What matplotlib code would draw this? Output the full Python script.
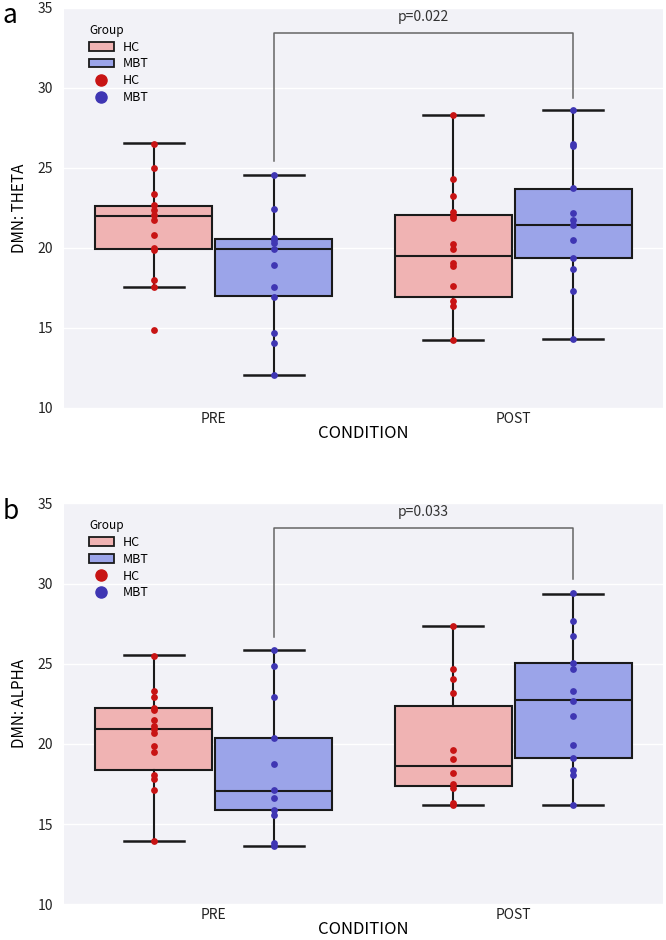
import matplotlib
matplotlib.use("Agg")
import matplotlib.pyplot as plt
from matplotlib.patches import Patch
from matplotlib.lines import Line2D

plt.rcParams['font.family'] = ['Noto Sans CJK KR', 'DejaVu Sans']

conditions = ["PRE", "POST"]
groups = ["HC", "MBT"]

# panel a: DMN theta, points per condition/group
theta_pts = {
    ("PRE", "HC"): [26.52, 24.98, 23.35, 22.71, 22.4, 22.08, 21.77, 20.83, 20.0, 19.9, 18.02, 17.54, 14.85],
    ("PRE", "MBT"): [24.58, 22.46, 20.62, 20.48, 20.31, 19.94, 18.96, 17.54, 16.92, 14.69, 14.06, 12.08],
    ("POST", "HC"): [28.33, 24.31, 23.23, 22.25, 22.02, 21.85, 20.25, 19.94, 19.06, 18.85, 17.6, 16.67, 16.35, 14.27],
    ("POST", "MBT"): [28.63, 26.52, 26.35, 23.73, 22.19, 21.77, 21.44, 20.48, 19.38, 18.69, 17.33, 14.31],
}
# box stats: whislo, q1, med, q3, whishi
theta_box = {
    ("PRE", "HC"): [17.54, 19.94, 22.0, 22.63, 26.56],
    ("PRE", "MBT"): [12.08, 16.98, 19.94, 20.56, 24.58],
    ("POST", "HC"): [14.23, 16.92, 19.48, 22.08, 28.33],
    ("POST", "MBT"): [14.31, 19.35, 21.44, 23.71, 28.63],
}

# panel b: DMN alpha
alpha_pts = {
    ("PRE", "HC"): [25.49, 23.31, 22.94, 22.27, 22.1, 21.48, 21.1, 20.94, 20.71, 19.86, 19.5, 18.05, 17.82, 17.15, 13.95],
    ("PRE", "MBT"): [25.83, 24.83, 22.92, 20.38, 18.76, 17.15, 16.6, 15.87, 15.55, 13.83, 13.62],
    ("POST", "HC"): [27.33, 24.66, 24.04, 23.19, 19.65, 19.03, 18.2, 17.53, 17.26, 16.32, 16.18],
    ("POST", "MBT"): [29.4, 27.68, 26.74, 25.02, 24.66, 23.33, 22.69, 21.73, 19.92, 19.13, 18.4, 18.09, 16.2],
}
alpha_box = {
    ("PRE", "HC"): [13.95, 18.4, 20.9, 22.25, 25.52],
    ("PRE", "MBT"): [13.62, 15.9, 17.09, 20.4, 25.83],
    ("POST", "HC"): [16.16, 17.36, 18.65, 22.35, 27.33],
    ("POST", "MBT"): [16.2, 19.15, 22.73, 25.02, 29.32],
}

# bracket: top, left leg end, right leg end
theta_bracket = [33.44, 25.42, 29.38]
alpha_bracket = [33.46, 26.68, 30.26]
theta_p = "p=0.022"
alpha_p = "p=0.033"

box_colors = {"HC": "#f0b3b3", "MBT": "#9ba4e9"}
dot_colors = {"HC": "#c81414", "MBT": "#3f36b3"}
offsets = {"HC": -0.2, "MBT": 0.2}


def draw_panel(ax, pts, boxes, bracket, ptext, ylabel, letter):
    ax.set_facecolor("#f2f2f7")
    for ci, cond in enumerate(conditions):
        for g in groups:
            lo, q1, med, q3, hi = boxes[(cond, g)]
            stat = dict(whislo=lo, q1=q1, med=med, q3=q3, whishi=hi, fliers=[])
            pos = ci + offsets[g]
            ax.bxp([stat], positions=[pos], widths=0.39, patch_artist=True,
                   showfliers=False, capwidths=0.2,
                   boxprops=dict(facecolor=box_colors[g], edgecolor="#1a1a1a", linewidth=1.5),
                   medianprops=dict(color="#1a1a1a", linewidth=1.5),
                   whiskerprops=dict(color="#1a1a1a", linewidth=1.5),
                   capprops=dict(color="#1a1a1a", linewidth=1.8), zorder=2)
            vals = pts[(cond, g)]
            ax.scatter([pos] * len(vals), vals, s=24, color=dot_colors[g], zorder=4, linewidths=0)

    x1, x2 = 0 + offsets["MBT"], 1 + offsets["MBT"]
    top, left_end, right_end = bracket
    ax.plot([x1, x1, x2, x2], [left_end, top, top, right_end], color="#666666", lw=1.1, zorder=3)
    ax.text((x1 + x2) / 2, top + 1.0, ptext, ha="center", va="center", fontsize=10, color="#333333")

    ax.set_xlim(-0.5, 1.5)
    ax.set_ylim(10, 35)
    ax.set_yticks([10, 15, 20, 25, 30, 35])
    ax.set_xticks([0, 1])
    ax.set_xticklabels(conditions)
    ax.tick_params(axis="y", length=0, labelsize=10, colors="#222222", pad=8)
    ax.tick_params(axis="x", length=0, labelsize=10, colors="#222222", pad=3)
    ax.grid(axis="y", color="white", lw=1.0)
    ax.set_axisbelow(True)
    for s in ax.spines.values():
        s.set_visible(False)
    ax.set_xlabel("CONDITION", fontsize=12, labelpad=-1)
    ax.set_ylabel(ylabel, fontsize=11, labelpad=7)

    handles = [Patch(facecolor=box_colors["HC"], edgecolor="#1a1a1a", lw=1.3, label="HC"),
               Patch(facecolor=box_colors["MBT"], edgecolor="#1a1a1a", lw=1.3, label="MBT"),
               Line2D([], [], marker="o", ls="", color=dot_colors["HC"], markersize=8, label="HC"),
               Line2D([], [], marker="o", ls="", color=dot_colors["MBT"], markersize=8, label="MBT")]
    leg = ax.legend(handles=handles, title="Group", loc="upper left", frameon=False,
                    fontsize=9, title_fontsize=8.5, bbox_to_anchor=(0.025, 0.985),
                    handlelength=2.0, handleheight=0.7, labelspacing=0.3, borderpad=0.3,
                    handletextpad=0.7)
    leg._legend_box.align = "left"

    ax.figure.text(0.004, ax.get_position().y1 + 0.006, letter, fontsize=19, va="top", ha="left")


fig = plt.figure(figsize=(6.66, 9.40), dpi=100)
ax_a = fig.add_axes([0.096, 0.566, 0.8995, 0.4255])
ax_b = fig.add_axes([0.096, 0.038, 0.8995, 0.4265])

draw_panel(ax_a, theta_pts, theta_box, theta_bracket, theta_p, "DMN: THETA", "a")
draw_panel(ax_b, alpha_pts, alpha_box, alpha_bracket, alpha_p, "DMN: ALPHA", "b")

fig.savefig("out.png", dpi=100)
